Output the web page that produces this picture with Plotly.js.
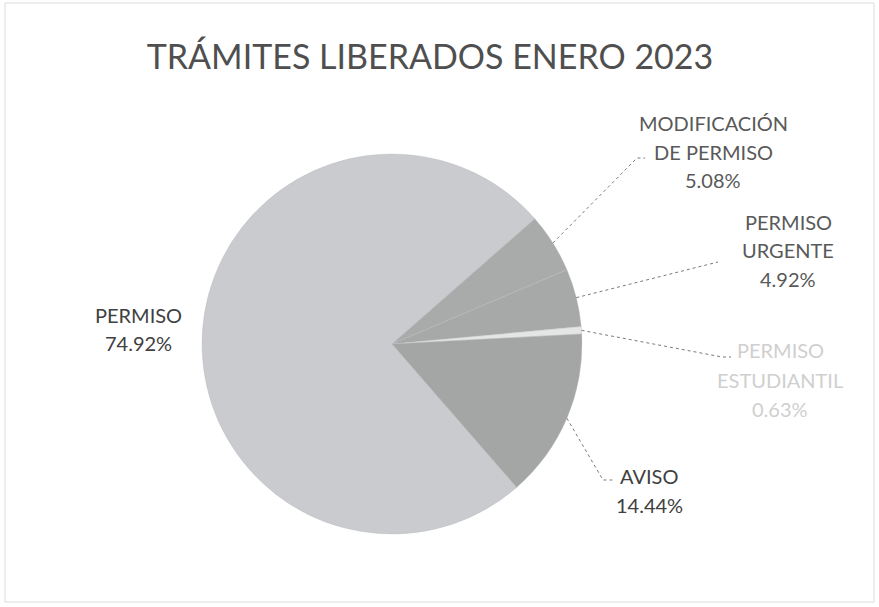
<!DOCTYPE html>
<html>
<head>
<meta charset="utf-8">
<script src="https://cdn.plot.ly/plotly-3.0.1.min.js"></script>
<style>html,body{margin:0;padding:0;background:#fff;}#chart{width:879px;height:607px;}</style>
</head>
<body>
<div id="chart"></div>
<script>
// ---- data ----
const categories = ["PERMISO", "MODIFICACIÓN DE PERMISO", "PERMISO URGENTE", "PERMISO ESTUDIANTIL", "AVISO"];
const percentages = [74.92, 5.08, 4.92, 0.63, 14.44];
const labelLines = [["PERMISO", "74.92%"], ["MODIFICACIÓN", "DE PERMISO", "5.08%"], ["PERMISO", "URGENTE", "4.92%"], ["PERMISO", "ESTUDIANTIL", "0.63%"], ["AVISO", "14.44%"]];
const sliceColors = ["#c9cbce", "#a9abab", "#a7a9a9", "#e4e5e5", "#a4a6a6"];
const titleText = "TRÁMITES LIBERADOS ENERO 2023";

// ---- layout (pixels) ----
const W = 879, H = 607;
const cx = 392, cy = 344, R = 190;
const rotation = 139;
const labelPos = [ // center x, first line y, line spacing
  [138, 315, 28], [713, 123, 28.5], [788, 222, 28.5], [780, 350, 29.5], [649, 476, 28.5]
];
const labelColors = ["#404040", "#595959", "#595959", "#cfcfcf", "#404040"];
const leaderEnds = [null, [[637, 158], [645, 158]], [[718, 262]], [[722, 357], [731, 357]], [[603, 480], [613, 480]]];

const px = x => x / W, py = y => 1 - y / H;

const total = percentages.reduce((a, b) => a + b, 0);
let cum = 0;
const heads = percentages.map(v => {
  const mid = rotation + 360 * (cum + v / 2) / total;
  cum += v;
  const a = mid * Math.PI / 180;
  return [cx + R * Math.sin(a), cy - R * Math.cos(a)];
});

const annotations = [];
labelLines.forEach((lines, i) => {
  const [x, y0, sp] = labelPos[i];
  lines.forEach((t, j) => {
    annotations.push({
      xref: 'paper', yref: 'paper', x: px(x), y: py(y0 + j * sp),
      xanchor: 'center', yanchor: 'middle', showarrow: false, text: t,
      font: {family: 'Lato, "Noto Sans", sans-serif', size: 20, color: labelColors[i]}
    });
  });
});

const shapes = [{type: 'rect', xref: 'paper', yref: 'paper', x0: px(5), x1: px(874), y0: py(602), y1: py(3),
  line: {color: '#dcdcdc', width: 1}}];
leaderEnds.forEach((pts, i) => {
  if (!pts) return;
  let p = 'M' + px(heads[i][0]) + ',' + py(heads[i][1]);
  pts.forEach(q => { p += ' L' + px(q[0]) + ',' + py(q[1]); });
  shapes.push({type: 'path', xref: 'paper', yref: 'paper', path: p,
    line: {color: '#7a7a7a', width: 1, dash: 'dot'}});
});

const trace = {
  type: 'pie',
  labels: categories,
  values: percentages,
  sort: false,
  direction: 'clockwise',
  rotation: rotation,
  textinfo: 'none',
  hoverinfo: 'label+percent',
  marker: {colors: sliceColors, line: {color: '#b8baba', width: 0.4}},
  domain: {x: [px(cx - R), px(cx + R)], y: [py(cy + R), py(cy - R)]},
  showlegend: false
};

const layout = {
  width: W, height: H,
  margin: {l: 0, r: 0, t: 0, b: 0},
  paper_bgcolor: '#ffffff',
  title: {text: titleText, xref: 'paper', yref: 'paper', x: px(430), y: py(57), xanchor: 'center', yanchor: 'middle',
    font: {family: 'Lato, "Noto Sans", sans-serif', size: 34, color: '#4f4f4f'}},
  annotations: annotations,
  shapes: shapes,
  showlegend: false
};

Plotly.newPlot('chart', [trace], layout, {displayModeBar: false, staticPlot: true});
</script>
</body>
</html>
